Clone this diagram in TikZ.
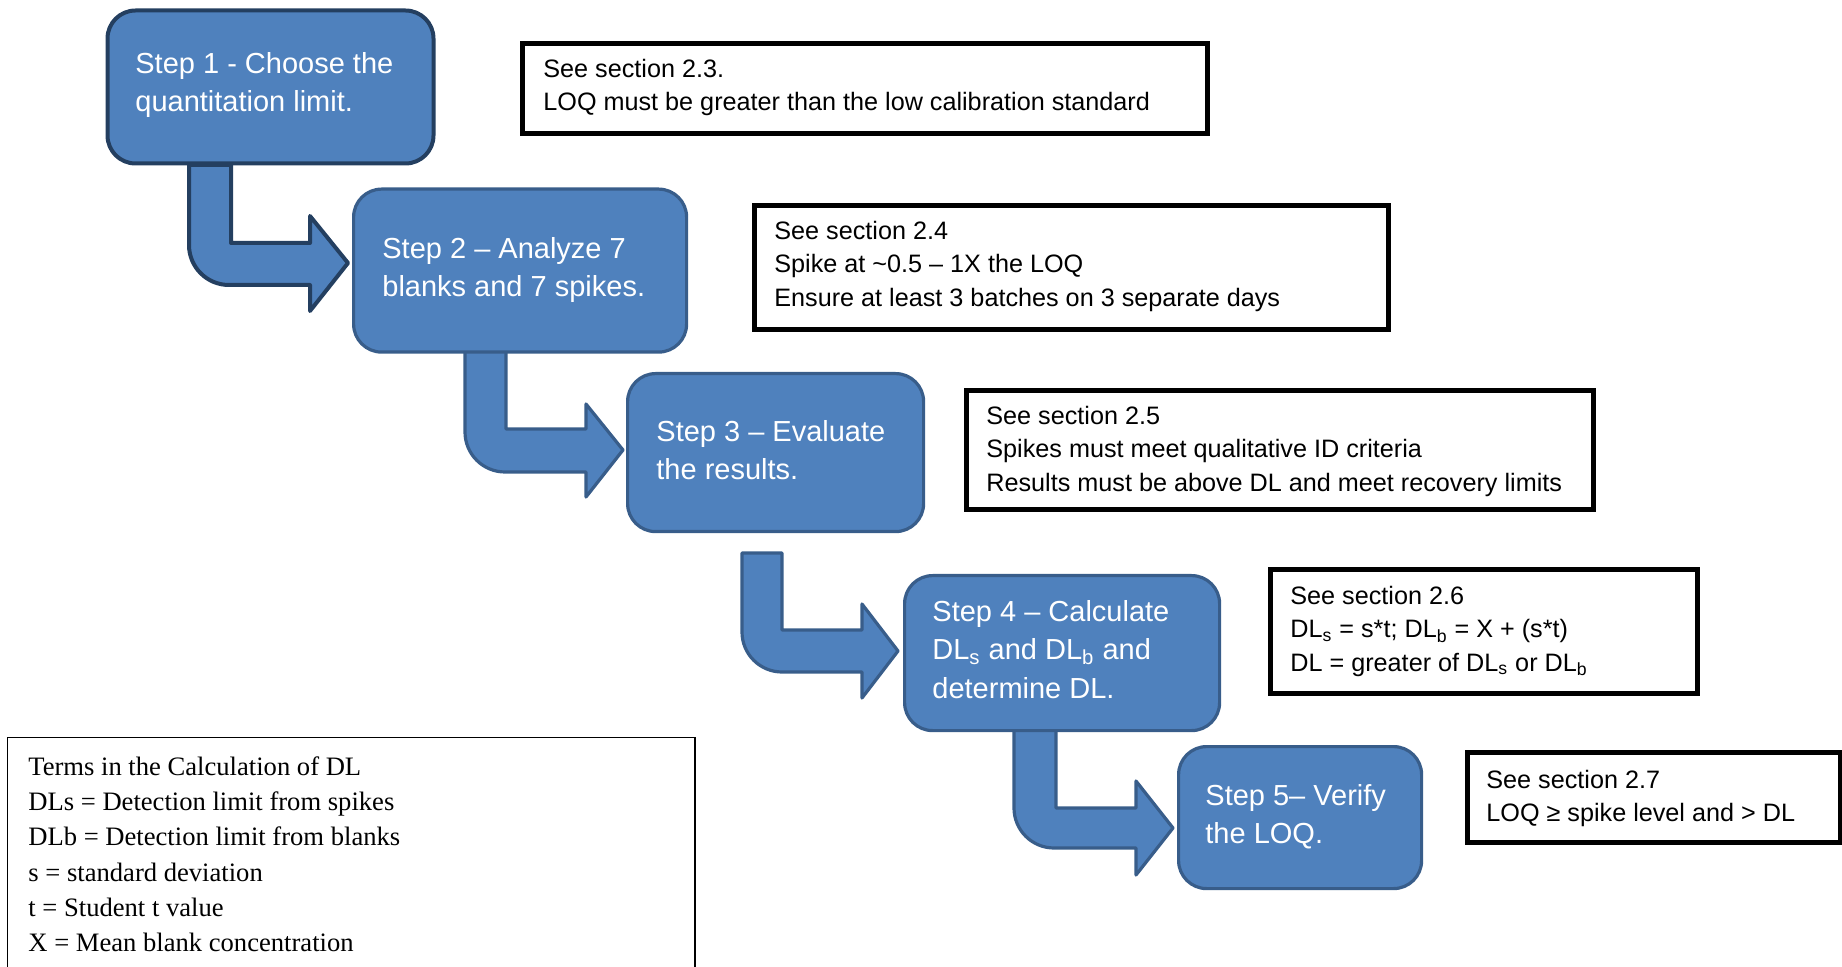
\documentclass[tikz,border=0pt]{standalone}
\usepackage{fontspec}
\setmainfont{Liberation Sans}
\newfontfamily\termsfont{Liberation Serif}
\definecolor{stepfill}{HTML}{4F81BD}
\definecolor{stepedge}{HTML}{385D8A}
\definecolor{firstedge}{HTML}{243F60}
\newcommand\mystrut{\rule{0pt}{12pt}}
\begin{document}
\begin{tikzpicture}[x=0.5pt,y=-0.5pt,
  stepbox/.style={draw=stepedge, fill=stepfill, line width=1.6pt, rounded corners=14pt, anchor=north west, inner sep=0pt},
  notebox/.style={draw=black, line width=2.5pt, anchor=north west, inner sep=0pt, fill=white},
  bentarrow/.style={draw=stepedge, fill=stepfill, line width=1.6pt, line join=round},
  steptext/.style={anchor=north west, inner sep=0pt, align=left, text=white, font=\fontsize{14.5}{19.2}\selectfont},
  notetext/.style={anchor=north west, inner sep=0pt, align=left, font=\fontsize{12.6}{#1}\selectfont},
]
\useasboundingbox (0,0) rectangle (1842,967);

% bent arrows
\draw[bentarrow, draw=firstedge, line width=2pt] (231,165) -- (231,243) -- (310,243) -- (310,216) -- (348,263) -- (310,311) -- (310,285) -- (229,285) .. controls (206.9,285) and (189,267.1) .. (189,245) -- (189,165) -- cycle;
\draw[bentarrow] (506,350) -- (506,429) -- (586,429) -- (586,404) -- (623,450) -- (586,497) -- (586,472) -- (505,472) .. controls (482.9,472) and (465,454.1) .. (465,432) -- (465,350) -- cycle;
\draw[bentarrow] (782,553) -- (782,630) -- (862,630) -- (862,604) -- (898,651) -- (862,698) -- (862,672) -- (782,672) .. controls (759.9,672) and (742,654.1) .. (742,632) -- (742,553) -- cycle;
\draw[bentarrow] (1056,728) -- (1056,808) -- (1136,808) -- (1136,781) -- (1173,828) -- (1136,875) -- (1136,848) -- (1054,848) .. controls (1031.9,848) and (1014,830.1) .. (1014,808) -- (1014,728) -- cycle;

% step boxes
\node[stepbox, draw=firstedge, line width=2pt, minimum width=163pt, minimum height=76.5pt] (s1) at (105.5,8.5) {};
\node[stepbox, minimum width=166.5pt, minimum height=81.5pt] (s2) at (352,187.5) {};
\node[stepbox, minimum width=148pt, minimum height=79pt] (s3) at (626,372) {};
\node[stepbox, minimum width=157.5pt, minimum height=77.5pt] (s4) at (903,574) {};
\node[stepbox, minimum width=121.5pt, minimum height=71pt] (s5) at (1177,745) {};

\node[steptext] (t1) at (135,49) {\mystrut Step 1 - Choose the\\quantitation limit.};
\node[steptext] (t2) at (382,234) {\mystrut Step 2 – Analyze 7\\blanks and 7 spikes.};
\node[steptext] (t3) at (656,417) {\mystrut Step 3 – Evaluate\\the results.};
\node[steptext] (t4) at (932,597) {\mystrut Step 4 – Calculate\\DL\textsubscript{s} and DL\textsubscript{b} and\\determine DL.};
\node[steptext] (t5) at (1205,781) {\mystrut Step 5– Verify\\the LOQ.};

% note boxes
\node[notebox, minimum width=342.5pt, minimum height=45pt] (n1) at (520,41) {};
\node[notebox, minimum width=317pt, minimum height=62pt] (n2) at (751.5,203.5) {};
\node[notebox, minimum width=313.5pt, minimum height=59.5pt] (n3) at (963.5,388.5) {};
\node[notebox, minimum width=213.5pt, minimum height=61.5pt] (n4) at (1267.5,567.5) {};
\node[notebox, minimum width=186.5pt, minimum height=45pt] (n5) at (1465,750) {};
\node[draw=black, line width=0.75pt, anchor=north west, inner sep=0pt, minimum width=343.75pt, minimum height=150pt] (terms) at (6.75,736.75) {};

\node[notetext=16.7] (nt1) at (543,53) {\mystrut See section 2.3.\\LOQ must be greater than the low calibration standard};
\node[notetext=16.7] (nt2) at (774,215) {\mystrut See section 2.4\\Spike at \textasciitilde0.5 – 1X the LOQ\\Ensure at least 3 batches on 3 separate days};
\node[notetext=16.7] (nt3) at (986,400) {\mystrut See section 2.5\\Spikes must meet qualitative ID criteria\\Results must be above DL and meet recovery limits};
\node[notetext=16.7] (nt4) at (1290,580) {\mystrut See section 2.6\\DL\textsubscript{s} = s*t; DL\textsubscript{b} = X + (s*t)\\DL = greater of DL\textsubscript{s} or DL\textsubscript{b}};
\node[notetext=16.5] (nt5) at (1486,764) {\mystrut See section 2.7\\LOQ ≥ spike level and > DL};
\node[anchor=north west, inner sep=0pt, align=left, font=\termsfont\fontsize{13.3}{17.6}\selectfont] (tt) at (28,751) {\mystrut Terms in the Calculation of DL\\DLs = Detection limit from spikes\\DLb = Detection limit from blanks\\s = standard deviation\\t = Student t value\\X = Mean blank concentration};
\end{tikzpicture}
\end{document}
